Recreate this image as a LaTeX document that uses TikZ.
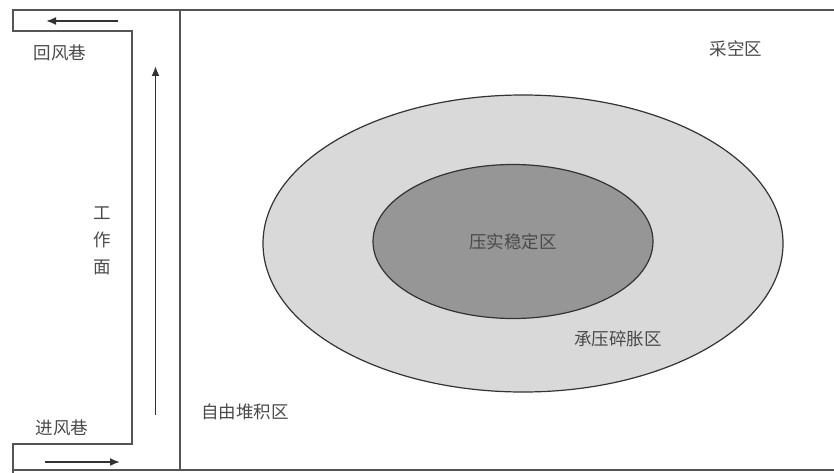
\documentclass[tikz,border=0pt]{standalone}
\usepackage{fontspec}
\setmainfont{Noto Sans CJK SC}
\usetikzlibrary{arrows.meta,shapes.geometric}
\definecolor{framec}{HTML}{555555}
\definecolor{outerfill}{HTML}{D9D9D9}
\definecolor{innerfill}{HTML}{969696}
\definecolor{txtc}{HTML}{4A4A4A}
\tikzset{
  frameline/.style={draw=framec,line width=2pt},
  flowarrow/.style={draw=black!80,line width=1.8pt,-{Latex[length=10pt,width=8pt]}},
  lbl/.style={text=txtc,font=\fontsize{17.5}{27}\selectfont,inner sep=0pt},
  zone/.style={ellipse,draw=black!80,line width=1.2pt,inner sep=0pt}
}
\begin{document}
\begin{tikzpicture}[x=1pt,y=-1pt]
\useasboundingbox (0,0) rectangle (834,473);
% frames
\draw[frameline] (834,10) -- (13,10) -- (13,31) -- (132,31) -- (132,444) -- (13,444) -- (13,473);
\draw[frameline] (13,470) -- (834,470);
\draw[frameline] (180,10) -- (180,470);
% zones
\node[zone,fill=outerfill,minimum width=520pt,minimum height=297pt] (outer) at (523,243.5) {};
\node[zone,fill=innerfill,minimum width=280pt,minimum height=154pt] (inner) at (513,241.5) {};
% arrows
\coordinate (ra1) at (118,21);
\coordinate (ra2) at (46,21);
\coordinate (ia1) at (45,462);
\coordinate (ia2) at (120,462);
\coordinate (wa1) at (155.5,415);
\coordinate (wa2) at (155.5,66);
\draw[flowarrow] (ra1) -- (ra2);
\draw[flowarrow] (ia1) -- (ia2);
\draw[flowarrow] (wa1) -- (wa2);
% labels
\node[lbl] (huifeng) at (60,53) {回风巷};
\node[lbl] (jinfeng) at (62,428) {进风巷};
\node[lbl,align=center] (gzm) at (102,241) {工\\作\\面};
\node[lbl] (caikong) at (736,49) {采空区};
\node[lbl] (yashi) at (513,242) {压实稳定区};
\node[lbl] (chengya) at (618,339) {承压碎胀区};
\node[lbl] (ziyou) at (245,412) {自由堆积区};
\end{tikzpicture}
\end{document}
